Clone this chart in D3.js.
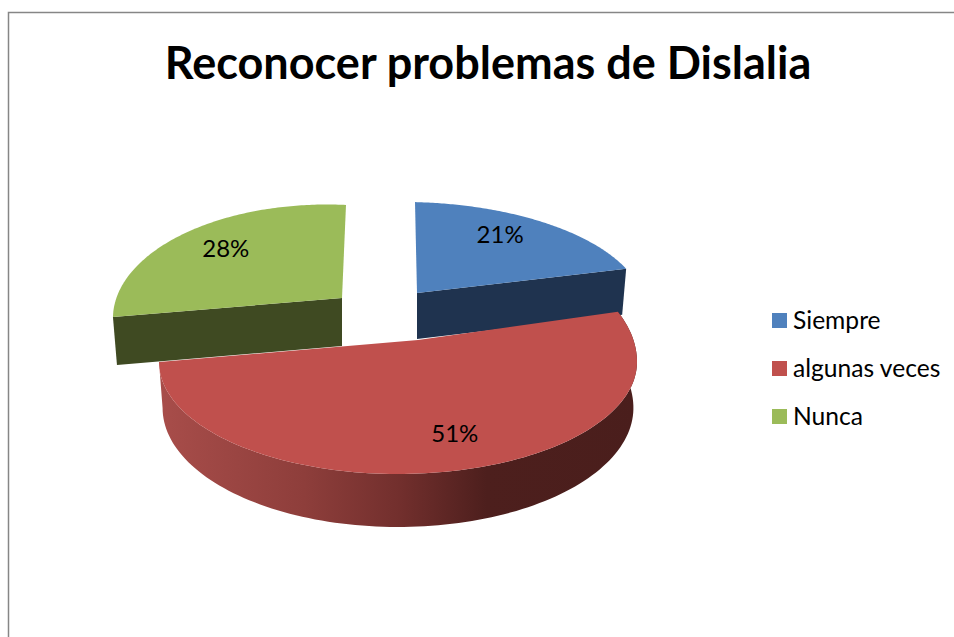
<!DOCTYPE html>
<html>
<head>
<meta charset="utf-8">
<title>Reconocer problemas de Dislalia</title>
<script src="https://d3js.org/d3.v7.min.js"></script>
<style>
	html, body { margin: 0; background: #fff; }
	svg { display: block; }
	text { font-family: Lato, "Open Sans", sans-serif; fill: #000; }
</style>
</head>
<body>
<div id="chart"></div>
<script>
// data
var categories = ["Siempre", "algunas veces", "Nunca"];
var percents = [21, 51, 28];
var chartTitle = "Reconocer problemas de Dislalia";

// colours
var topColors = ["#4f81bd", "#c0504d", "#9bbb59"];
var faceColors = ["#1f334f", "url(#wall)", "#3f4a22"];

var width = 954, height = 637;

// perspective of the pie plane, used by the two back slices
var persp_p = 0.07, persp_q = 0.177;

var frames = [
	{ cx: 417, cy: 293, ax: 240.7, bx: -2.35, ay: -0.4, by: -107, depth: 46, label: [0.74, -8, -5] },
	{ cx: 418, cy: 340, depth: 46, label: [0.71, 17, 0] },
	{ cx: 342, cy: 298, ax: 208.5, bx: 4.7, ay: 3.5, by: -109.5, depth: 48, label: [0.72, -9, 0] }
];

// the front slice is drawn on its own ellipse, flatter below than above
var front = { ex: 398, ey: 362, rx: 239, ryUp: 128, ryDown: 112, squeeze: 0.985, ryWall: 119 };
var phiStart = 66.9 * Math.PI / 180, phiEnd = 270 * Math.PI / 180;

var pie = d3.pie().sort(null)(percents);

function frontPhi(angle) {
	return d3.scaleLinear().domain([pie[1].startAngle, pie[1].endAngle]).range([phiStart, phiEnd])(angle);
}

function backRim(frame, angle) {
	var u = Math.sin(angle), v = Math.cos(angle);
	var w = 1 + persp_p * u + persp_q * v;
	return {
		x: frame.cx + (frame.ax * u + frame.bx * v) / w,
		y: frame.cy + (frame.ay * u + frame.by * v) / w
	};
}

function frontRim(angle) {
	var phi = frontPhi(angle), c = Math.cos(phi);
	return {
		x: front.ex + front.rx * Math.sin(phi),
		y: front.ey - (c > 0 ? front.ryUp : front.ryDown) * c
	};
}

function frontWall(angle) {
	var phi = frontPhi(angle), c = Math.cos(phi);
	return {
		x: front.ex + front.rx * front.squeeze * Math.sin(phi),
		y: front.ey + frames[1].depth - (c > 0 ? front.ryUp : front.ryWall) * c
	};
}

function rimAt(i, angle) {
	return i === 1 ? frontRim(angle) : backRim(frames[i], angle);
}

var svg = d3.select("#chart").append("svg")
	.attr("width", width)
	.attr("height", height);

// wall shading of the big slice
var grad = svg.append("defs").append("linearGradient")
	.attr("id", "wall")
	.attr("gradientUnits", "userSpaceOnUse")
	.attr("x1", 160).attr("x2", 640).attr("y1", 0).attr("y2", 0);
[[0, "#a84d4a"], [0.3, "#8e3e3b"], [0.5, "#722f2d"], [0.68, "#4d1f1d"], [1, "#4a1e1c"]].forEach(function(s) {
	grad.append("stop").attr("offset", s[0]).attr("stop-color", s[1]);
});

// chart frame, only top and left are on the picture
svg.append("path")
	.attr("d", d3.line()([[8.5, height], [8.5, 12.5], [width, 12.5]]))
	.attr("fill", "none")
	.attr("stroke", "#868686")
	.attr("stroke-width", 1.5);

svg.append("text")
	.attr("x", 488)
	.attr("y", 79)
	.attr("text-anchor", "middle")
	.style("font-size", "45px")
	.style("font-weight", 700)
	.text(chartTitle);

var line = d3.line().x(function(d) { return d.x; }).y(function(d) { return d.y; });

function sampleAngles(i) {
	var a0 = pie[i].startAngle, a1 = pie[i].endAngle;
	return d3.range(0, 121).map(function(k) { return a0 + (a1 - a0) * k / 120; });
}

// back slices first, the red one sits in front
[2, 0, 1].forEach(function(i) {
	var frame = frames[i];
	var angles = sampleAngles(i);
	var rim = angles.map(function(a) { return rimAt(i, a); });
	var apex = { x: frame.cx, y: frame.cy };
	var g = svg.append("g");

	var faceEdge;
	if (i === 1) {
		// outer wall
		faceEdge = rim.concat(angles.slice().reverse().map(frontWall));
	} else {
		// cut face that looks to the front
		var outer = i === 0 ? rim[rim.length - 1] : rim[0];
		var inset = i === 0 ? -4 : 4;
		faceEdge = [
			apex,
			outer,
			{ x: outer.x + inset, y: outer.y + frame.depth },
			{ x: apex.x, y: apex.y + frame.depth }
		];
	}
	g.append("path")
		.attr("d", line(faceEdge) + "Z")
		.attr("fill", faceColors[i]);

	g.append("path")
		.attr("d", line([apex].concat(rim)) + "Z")
		.attr("fill", topColors[i]);
});

// labels on top
pie.forEach(function(d, i) {
	var frame = frames[i];
	var mid = (d.startAngle + d.endAngle) / 2;
	var rim = rimAt(i, mid);
	var r = frame.label[0];
	svg.append("text")
		.attr("x", frame.cx + (rim.x - frame.cx) * r + frame.label[1])
		.attr("y", frame.cy + (rim.y - frame.cy) * r + frame.label[2])
		.attr("dy", "0.35em")
		.attr("text-anchor", "middle")
		.style("font-size", "24px")
		.text(d.value + "%");
});

// legend
var legendY = d3.scalePoint().domain(categories).range([320.5, 416.5]);
var legend = svg.append("g").selectAll("g").data(categories).enter().append("g")
	.attr("transform", function(d) { return "translate(772," + legendY(d) + ")"; });
legend.append("rect")
	.attr("y", -7.5)
	.attr("width", 15)
	.attr("height", 15)
	.attr("fill", function(d, i) { return topColors[i]; });
legend.append("text")
	.attr("x", 21)
	.attr("dy", "0.35em")
	.style("font-size", "24.6px")
	.text(function(d) { return d; });
</script>
</body>
</html>
